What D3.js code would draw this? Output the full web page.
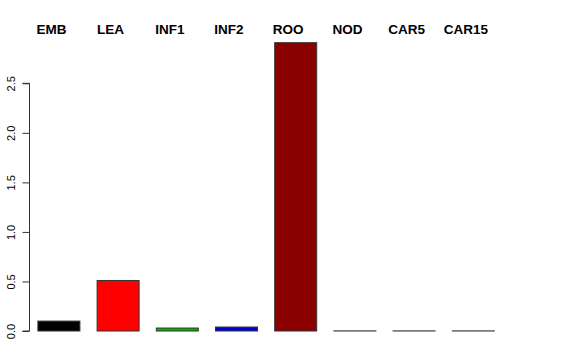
<!DOCTYPE html>
<html>
<head>
<meta charset="utf-8">
<script src="https://cdn.jsdelivr.net/npm/d3@7"></script>
<style>
  body { margin: 0; background: #fff; }
  svg { display: block; font-family: "Liberation Sans", Arial, sans-serif; }
</style>
</head>
<body>
<div id="chart"></div>
<script>
var categories = ["EMB", "LEA", "INF1", "INF2", "ROO", "NOD", "CAR5", "CAR15"];
var values = [0.10, 0.51, 0.03, 0.04, 2.91, 0.001, 0.001, 0.001];
var colors = ["#000000", "#ff0000", "#00b400", "#0000d0", "#8b0000", "#ff00ff", "#4040a0", "#306030"];
var yTicks = [0, 0.5, 1, 1.5, 2, 2.5];

var width = 576, height = 360;

var svg = d3.select("#chart").append("svg")
    .attr("width", width)
    .attr("height", height);

// bar slots: pitch ~59.2px, bar width ~42px
var x = d3.scaleBand()
    .domain(categories)
    .range([29.3, 29.3 + 59.2 * categories.length])
    .paddingInner(17.2 / 59.2)
    .paddingOuter(8.6 / 59.2);

var y = d3.scaleLinear()
    .domain([0, 2.5])
    .range([331, 83.3]);

svg.append("g")
    .selectAll("rect")
    .data(values)
  .enter().append("rect")
    .attr("x", function(d, i) { return x(categories[i]); })
    .attr("width", x.bandwidth())
    .attr("y", function(d) { return y(d); })
    .attr("height", function(d) { return y(0) - y(d); })
    .attr("fill", function(d, i) { return colors[i]; })
    .attr("stroke", "#333")
    .attr("stroke-width", 1);

// y axis, R style: rotated labels
var axis = svg.append("g")
    .attr("transform", "translate(29.5,0)")
    .call(d3.axisLeft(y).tickValues(yTicks).tickSize(7).tickFormat(d3.format(".1f")));

axis.select(".domain").attr("stroke", "#333").attr("d", "M-7," + y(2.5) + "H0V" + y(0) + "H-7");
axis.selectAll(".tick line").attr("stroke", "#333").attr("x2", -7);
axis.selectAll(".tick text")
    .attr("x", null).attr("dy", null)
    .attr("transform", "translate(-15,0) rotate(-90)")
    .attr("text-anchor", "middle")
    .attr("font-size", 11)
    .attr("font-family", "Liberation Sans, Arial, sans-serif")
    .attr("fill", "#000");

// category labels along the top
svg.append("g")
    .selectAll("text")
    .data(categories)
  .enter().append("text")
    .attr("x", function(d) { return x(d) + x.bandwidth() / 2 - 7.5; })
    .attr("y", 33.5)
    .attr("text-anchor", "middle")
    .attr("font-weight", "bold")
    .attr("font-size", 13.5)
    .text(function(d) { return d; });
</script>
</body>
</html>
